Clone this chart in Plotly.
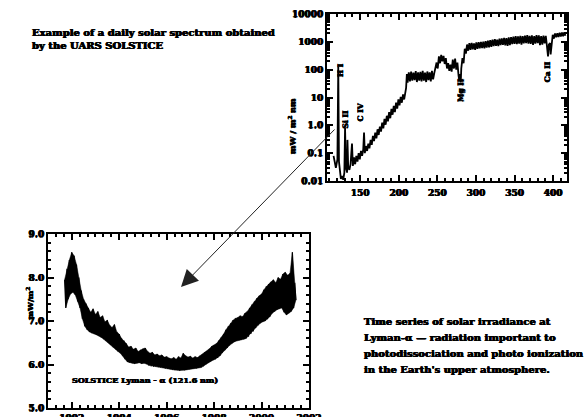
import numpy as np
import plotly.graph_objects as go

W, H = 585, 417
SERIF = "DejaVu Serif"
HEAVY = "0.5px 0 0 black, -0.4px 0 0 black, 0 0.4px 0 black"

# ---- Daily solar spectrum (UARS SOLSTICE), mW / m^2 nm ----
wavelength_nm = [
    115.5, 117, 118.5, 120.5, 121.6, 122.5, 123.5, 125, 126.5, 128,
    129.5, 130.4, 131.5, 133, 133.5, 134.5, 136, 137.5, 139.4, 140.5,
    142, 143.5, 145, 146.5, 148, 149.5, 151, 152.5, 154, 155,
    156, 157.5, 159, 160.5, 162, 163.5, 165, 166.5, 168, 169.5,
    171, 172.5, 174, 175.5, 177, 178.5, 180, 181.5, 183, 184.5,
    186, 187.5, 189, 190.5, 192, 193.5, 195, 196.5, 198, 199.5,
    201, 202.5, 204, 205.5, 207, 208.5, 209.5, 210.5, 211.5, 213,
    214.5, 216, 217.5, 219, 220.5, 222, 223.5, 225, 226.5, 228,
    229.5, 231, 232.5, 234, 235.5, 237, 238.5, 240, 241.5, 243,
    244.5, 246, 247.5, 249, 250.5, 252, 253.5, 255, 256.5, 258,
    259.5, 261, 262.5, 264, 265.5, 267, 268.5, 270, 271.5, 273,
    274.5, 276, 277.5, 278.5, 279.5, 280.3, 281, 282.5, 284, 285.5,
    287, 288.5, 290, 291.5, 293, 294.5, 296, 297.5, 299, 300.5,
    302, 303.5, 305, 306.5, 308, 309.5, 311, 312.5, 314, 315.5,
    317, 318.5, 320, 321.5, 323, 324.5, 326, 327.5, 329, 330.5,
    332, 333.5, 335, 336.5, 338, 339.5, 341, 342.5, 344, 345.5,
    347, 348.5, 350, 351.5, 353, 354.5, 356, 357.5, 359, 360.5,
    362, 363.5, 365, 366.5, 368, 369.5, 371, 372.5, 374, 375.5,
    377, 378.5, 380, 381.5, 383, 384.5, 386, 387.5, 389, 390.5,
    392, 393.4, 394.5, 396, 396.8, 398, 399.5, 401, 402.5, 404,
    405.5, 407, 408.5, 410, 411.5, 413, 414.5, 416,
]
irradiance = [
    0.08, 0.05, 0.03, 0.06, 130, 0.05, 0.02, 0.012, 0.015, 0.011,
    0.02, 0.8, 0.03, 0.02, 0.3, 0.03, 0.025, 0.04, 0.22, 0.035,
    0.07, 0.04, 0.08, 0.05, 0.1, 0.06, 0.12, 0.08, 0.14, 0.55,
    0.1, 0.18, 0.12, 0.22, 0.15, 0.3, 0.2, 0.42, 0.27, 0.55,
    0.34, 0.72, 0.45, 0.9, 0.6, 1.25, 0.78, 1.7, 1.05, 2.2,
    1.4, 3.0, 1.8, 3.9, 2.4, 5.0, 3.0, 6.5, 4.0, 8.5,
    5.2, 10.5, 6.5, 13, 8.5, 17, 22, 70, 34, 80,
    38, 85, 40, 78, 42, 88, 36, 80, 40, 84,
    38, 90, 40, 78, 36, 86, 42, 80, 38, 90,
    45, 75, 130, 180, 110, 300, 170, 340, 200, 310,
    160, 260, 110, 170, 90, 150, 85, 230, 110, 250,
    100, 180, 60, 40, 70, 35, 110, 260, 170, 560,
    380, 800, 480, 900, 520, 920, 540, 880, 520, 950,
    560, 980, 580, 1000, 600, 1020, 580, 1050, 620, 1100,
    640, 1150, 660, 1200, 700, 1250, 720, 1200, 700, 1300,
    760, 1320, 780, 1380, 740, 1350, 720, 1450, 760, 1480,
    820, 1550, 850, 1600, 820, 1580, 860, 1650, 800, 1600,
    880, 1680, 900, 1750, 860, 1650, 840, 1700, 780, 1600,
    860, 1750, 900, 1700, 760, 1600, 800, 1680, 880, 1650,
    700, 300, 800, 900, 350, 1000, 1800, 1300, 2000, 1450,
    2050, 1500, 2100, 1550, 2150, 1600, 2200, 1650,
]

spec_ticks = [150, 200, 250, 300, 350, 400]
spec_yvals = [0.01, 0.1, 1, 10, 100, 1000, 10000]
spec_ylabels = ["0.01", "0.1", "1.0", "10", "100", "1000", "10000"]

# Emission / absorption features marked on the spectrum (label, nm, mW/m^2 nm)
line_labels = ["H I", "Si II", "C IV", "Mg II", "Ca II"]
line_nm = [124.5, 130.7, 150.0, 280.0, 392.0]
line_level = [93, 1.66, 2.95, 18, 87]

# ---- Lyman-alpha time series: daily upper / lower excursions, mW/m^2 ----
lya_start, lya_step = 1991.70, 0.1
lya_high = [
    7.95, 8.20, 8.40, 8.58, 8.50, 8.30, 8.00, 7.70, 7.50, 7.40, 7.30, 7.20, 7.28,
    7.15, 7.22, 7.08, 7.12, 6.98, 7.02, 6.90, 6.85, 6.92, 6.75, 6.70, 6.60, 6.55,
    6.48, 6.40, 6.42, 6.35, 6.38, 6.30, 6.34, 6.36, 6.38, 6.30, 6.26, 6.28, 6.22,
    6.24, 6.20, 6.22, 6.17, 6.18, 6.15, 6.13, 6.16, 6.12, 6.18, 6.15, 6.26, 6.20,
    6.17, 6.19, 6.15, 6.18, 6.16, 6.20, 6.22, 6.28, 6.30, 6.36, 6.42, 6.45, 6.48,
    6.55, 6.62, 6.70, 6.80, 6.88, 6.95, 7.02, 7.06, 7.08, 7.12, 7.10, 7.18, 7.22,
    7.30, 7.38, 7.45, 7.52, 7.58, 7.62, 7.72, 7.80, 7.85, 7.90, 7.95, 7.88, 8.00,
    7.96, 8.08, 8.12, 8.05, 8.10, 8.58, 7.88,
]
lya_low = [
    7.30, 7.50, 7.62, 7.66, 7.60, 7.45, 7.30, 7.05, 6.88, 6.80, 6.75, 6.72, 6.70,
    6.68, 6.66, 6.62, 6.58, 6.54, 6.50, 6.45, 6.40, 6.35, 6.30, 6.26, 6.20, 6.12,
    6.06, 6.04, 6.03, 6.02, 6.03, 6.04, 6.02, 6.03, 6.01, 5.98, 5.96, 5.95, 5.95,
    5.94, 5.93, 5.92, 5.91, 5.90, 5.89, 5.88, 5.87, 5.87, 5.86, 5.87, 5.87, 5.88,
    5.89, 5.90, 5.91, 5.91, 5.92, 5.93, 5.96, 6.00, 6.04, 6.07, 6.10, 6.12, 6.15,
    6.20, 6.27, 6.33, 6.38, 6.44, 6.49, 6.52, 6.54, 6.56, 6.57, 6.58, 6.60, 6.64,
    6.70, 6.76, 6.84, 6.90, 6.95, 6.98, 7.00, 7.04, 7.10, 7.18, 7.22, 7.26, 7.28,
    7.30, 7.20, 7.14, 7.18, 7.22, 7.30, 7.48,
]
year_ticks = [1992, 1994, 1996, 1998, 2000, 2002]
lya_yticks = [5, 6, 7, 8, 9]

# sample times: upper excursion at t, lower excursion half a step later
lya_t_hi = [lya_start + i * lya_step for i in range(len(lya_high))]
lya_t_lo = [t + lya_step / 2 for t in lya_t_hi]
lya_t, lya_v = [], []
for th, tl, hi, lo in zip(lya_t_hi, lya_t_lo, lya_high, lya_low):
    lya_t += [th, tl]
    lya_v += [hi, lo]


def px(x):
    return x / W


def py(y):
    return 1 - y / H


def sfont(size):
    return dict(family=SERIF, size=size, color="black", weight="bold",
                shadow=HEAVY)


fig = go.Figure()
fig.add_trace(go.Scatter(x=wavelength_nm, y=irradiance, mode="lines",
                         line=dict(color="black", width=1.8),
                         xaxis="x", yaxis="y", showlegend=False,
                         hoverinfo="skip"))
# range of the daily variability as a solid band, with the daily trace on top
fig.add_trace(go.Scatter(x=lya_t_hi + lya_t_lo[::-1],
                         y=lya_high + lya_low[::-1],
                         fill="toself", fillcolor="black", mode="lines",
                         line=dict(color="black", width=0.5),
                         xaxis="x2", yaxis="y2", showlegend=False,
                         hoverinfo="skip"))
fig.add_trace(go.Scatter(x=lya_t, y=lya_v, mode="lines",
                         line=dict(color="black", width=1.2),
                         xaxis="x2", yaxis="y2", showlegend=False,
                         hoverinfo="skip"))

frame = dict(showline=True, linecolor="black", linewidth=2, mirror="ticks",
             ticks="inside", tickcolor="black", showgrid=False, zeroline=False,
             tickfont=sfont(9), automargin=False)

fig.update_layout(
    width=W, height=H, margin=dict(l=0, r=0, t=0, b=0, pad=0, autoexpand=False),
    paper_bgcolor="white", plot_bgcolor="white",
    xaxis=dict(domain=[px(327), px(567)], anchor="y", range=[107, 418],
               tickmode="array", tickvals=spec_ticks, ticklen=6, tickwidth=1.5,
               ticklabelstandoff=2,
               minor=dict(ticks="inside", ticklen=3, dtick=10, tickcolor="black"),
               **frame),
    yaxis=dict(domain=[py(181), py(14)], anchor="x", type="log", range=[-2, 4],
               tickmode="array", tickvals=spec_yvals, ticktext=spec_ylabels,
               ticklen=6, tickwidth=1.5,
               minor=dict(ticks="inside", ticklen=3, dtick="D1", tickcolor="black"),
               **frame),
    xaxis2=dict(domain=[px(48), px(309)], anchor="y2", range=[1991, 2002],
                tickmode="array", tickvals=year_ticks, ticklen=6, tickwidth=1.5,
                ticklabelstandoff=0,
                minor=dict(ticks="inside", ticklen=3, dtick=1 / 3, tickcolor="black"),
                **frame),
    yaxis2=dict(domain=[py(408), py(234)], anchor="x2", range=[5, 9],
                tickmode="array", tickvals=lya_yticks, tickformat=".1f",
                ticklen=6, tickwidth=1.5,
                minor=dict(ticks="inside", ticklen=3, dtick=0.2, tickcolor="black"),
                **frame),
)

notes = []

# heading above the spectrum
for txt, yc in [("Example of a daily solar spectrum obtained", 33),
                ("by the UARS SOLSTICE", 45)]:
    notes.append(dict(text=txt, x=px(30), y=py(yc), xref="paper", yref="paper",
                      xanchor="left", yanchor="middle", showarrow=False,
                      font=sfont(10)))

# description beside the time series
for txt, yc in [("Time series of solar irradiance at", 321),
                ("Lyman-α — radiation important to", 337),
                ("photodissociation and photo ionization", 353),
                ("in the Earth's upper atmosphere.", 369)]:
    notes.append(dict(text=txt, x=px(362), y=py(yc), xref="paper", yref="paper",
                      xanchor="left", yanchor="middle", showarrow=False,
                      font=sfont(10)))

# axis titles
notes.append(dict(text="mW / m<sup>2</sup> nm", x=px(292), y=py(96), xref="paper",
                  yref="paper", textangle=-90, showarrow=False, font=sfont(8)))
notes.append(dict(text="mW/m<sup>2</sup>", x=px(22), y=py(322), xref="paper",
                  yref="paper", textangle=-90, showarrow=False, font=sfont(8)))

# spectral line labels
for lab, nm, lev in zip(line_labels, line_nm, line_level):
    notes.append(dict(text=lab, x=nm, y=np.log10(lev), xref="x", yref="y",
                      textangle=-90, showarrow=False, font=sfont(7.5)))

# series label inside the time-series panel
notes.append(dict(text="SOLSTICE Lyman - α (121.6 nm)", x=px(70), y=py(380),
                  xref="paper", yref="paper", xanchor="left", yanchor="middle",
                  showarrow=False, font=sfont(8)))

# arrow linking the Lyman-alpha line to its time series
notes.append(dict(text="", x=px(181), y=py(287), xref="paper", yref="paper",
                  ax=336 - 181, ay=128 - 287, axref="pixel", ayref="pixel",
                  showarrow=True, arrowhead=2, arrowsize=3.4, arrowwidth=1,
                  arrowcolor="#222", standoff=0, startstandoff=0))

fig.update_layout(annotations=notes)
fig.write_html("out.html")
